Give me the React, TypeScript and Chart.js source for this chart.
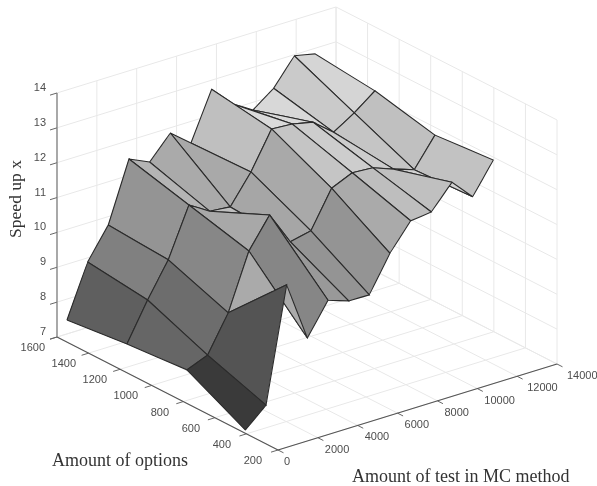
import React, { useEffect, useRef } from "react";
import { Chart, registerables } from "chart.js";

Chart.register(...registerables);

const testNodes = [500, 1537, 2574, 3611, 4648, 5685, 6722, 7759, 8796, 9833, 10870, 11907, 12944];
const optionNodes = [1600, 1220, 840, 470];
const speedAt1600 = [7.40, 8.88, 9.76, 11.47, 11.20, 11.85, 11.38, 12.74, 12.14, 11.78, 12.22, 12.97, 12.84];
const speedAt1220 = [7.59, 8.67, 9.64, 11.03, 10.67, 10.61, 11.43, 12.48, 12.44, 12.31, 11.84, 12.21, 12.66];
const speedAt840 = [7.73, 7.97, 9.00, 10.59, 11.44, 10.49, 10.62, 11.66, 11.92, 11.88, 11.66, 11.46, 12.27];
const speedAt470 = [6.86, 7.39, 10.66, 8.95, 9.85, 9.65, 9.64, 10.65, 11.40, 11.47, 12.14, 11.54, 12.41];
const speedRows = [speedAt1600, speedAt1220, speedAt840, speedAt470];

const testTicks = [0, 2000, 4000, 6000, 8000, 10000, 12000, 14000];
const optionTicks = [200, 400, 600, 800, 1000, 1200, 1400, 1600];
const speedTicks = [7, 8, 9, 10, 11, 12, 13, 14];

const grayStopsZ = [6.86, 7.4, 7.73, 8.68, 10.67, 12.4];
const grayStopsV = [58, 85, 102, 128, 170, 218];

const T_MAX = 14000, O_MIN = 200, O_MAX = 1600, Z_MIN = 7, Z_MAX = 14;

// orthographic view of the plot box, into the page-sized linear scales
function project(t: number, o: number, z: number) {
  return {
    x: 278 + (t / T_MAX) * 279 - ((o - O_MIN) / (O_MAX - O_MIN)) * 221,
    y: 450 - (t / T_MAX) * 86 - ((o - O_MIN) / (O_MAX - O_MIN)) * 113 - (z - Z_MIN) * 34.86,
  };
}

function grayFor(z: number) {
  let v = grayStopsV[grayStopsV.length - 1];
  if (z <= grayStopsZ[0]) v = grayStopsV[0];
  else
    for (let i = 1; i < grayStopsZ.length; i++) {
      if (z <= grayStopsZ[i]) {
        const f = (z - grayStopsZ[i - 1]) / (grayStopsZ[i] - grayStopsZ[i - 1]);
        v = grayStopsV[i - 1] + f * (grayStopsV[i] - grayStopsV[i - 1]);
        break;
      }
    }
  const c = Math.round(v);
  return `rgb(${c},${c},${c})`;
}

function segment(points: { x: number; y: number }[], color: string, width: number) {
  return {
    type: "scatter" as const,
    data: points,
    showLine: true,
    fill: false,
    borderColor: color,
    borderWidth: width,
    pointRadius: 0,
    clip: false,
  };
}

function buildDatasets() {
  const sets: any[] = [];
  // surface, nearest cell first (Chart.js paints the first dataset last)
  for (let j = optionNodes.length - 2; j >= 0; j--) {
    for (let i = 0; i < testNodes.length - 1; i++) {
      const pts = [
        project(testNodes[i], optionNodes[j], speedRows[j][i]),
        project(testNodes[i + 1], optionNodes[j], speedRows[j][i + 1]),
        project(testNodes[i + 1], optionNodes[j + 1], speedRows[j + 1][i + 1]),
        project(testNodes[i], optionNodes[j + 1], speedRows[j + 1][i]),
      ];
      pts.push(pts[0]);
      sets.push({
        type: "scatter" as const,
        data: pts,
        showLine: true,
        fill: "shape",
        tension: 0.000001,
        backgroundColor: grayFor(speedRows[j + 1][i]),
        borderColor: "#2b2b2b",
        borderWidth: 1.1,
        pointRadius: 0,
        clip: false,
      });
    }
  }
  // axis lines and tick marks
  sets.push(segment([project(0, O_MAX, Z_MIN), project(0, O_MAX, Z_MAX)], "#777777", 1.2));
  sets.push(segment([project(0, O_MIN, Z_MIN), project(0, O_MAX, Z_MIN)], "#555555", 1.1));
  sets.push(segment([project(0, O_MIN, Z_MIN), project(T_MAX, O_MIN, Z_MIN)], "#555555", 1.1));
  for (const z of speedTicks)
    sets.push(segment([project(0, O_MAX, z), project(-350, O_MAX, z)], "#666666", 1));
  for (const o of optionTicks)
    sets.push(segment([project(0, o, Z_MIN), project(-350, o, Z_MIN)], "#666666", 1));
  for (const t of testTicks)
    sets.push(segment([project(t, O_MIN, Z_MIN), project(t, O_MIN - 35, Z_MIN)], "#666666", 1));
  // grid on the floor and the two back walls
  const grid = "#e8e8e8";
  for (const t of testTicks) {
    sets.push(segment([project(t, O_MIN, Z_MIN), project(t, O_MAX, Z_MIN)], grid, 1));
    sets.push(segment([project(t, O_MAX, Z_MIN), project(t, O_MAX, Z_MAX)], grid, 1));
  }
  for (const o of optionTicks) {
    sets.push(segment([project(0, o, Z_MIN), project(T_MAX, o, Z_MIN)], grid, 1));
    sets.push(segment([project(T_MAX, o, Z_MIN), project(T_MAX, o, Z_MAX)], grid, 1));
  }
  for (const z of speedTicks) {
    sets.push(segment([project(0, O_MAX, z), project(T_MAX, O_MAX, z)], grid, 1));
    sets.push(segment([project(T_MAX, O_MAX, z), project(T_MAX, O_MIN, z)], grid, 1));
  }
  return sets;
}

const textPlugin = {
  id: "axisText",
  afterDraw(chart: any) {
    const { ctx, scales } = chart;
    const px = (p: { x: number; y: number }) => ({ x: scales.x.getPixelForValue(p.x), y: scales.y.getPixelForValue(p.y) });
    ctx.save();
    ctx.font = '11px "Liberation Sans"';
    ctx.fillStyle = "#4d4d4d";
    ctx.textBaseline = "middle";
    ctx.textAlign = "right";
    for (const z of speedTicks) {
      const p = px(project(0, O_MAX, z));
      ctx.fillText(String(z), p.x - 11, p.y - 5);
    }
    for (const o of optionTicks) {
      const p = px(project(0, o, Z_MIN));
      ctx.fillText(String(o), p.x - 16 + (4 * (o - O_MIN)) / (O_MAX - O_MIN), p.y + 11);
    }
    ctx.textAlign = "left";
    for (const t of testTicks) {
      const p = px(project(t, O_MIN, Z_MIN));
      ctx.fillText(String(t), p.x + (t === 0 ? 6 : t > 10000 ? 10 : 7), p.y + 12);
    }
    ctx.font = '18px "Liberation Serif"';
    ctx.fillStyle = "#333333";
    ctx.fillText("Amount of options", 52, 461);
    ctx.fillText("Amount of test in MC method", 352, 477);
    ctx.font = '17.5px "Liberation Serif"';
    ctx.translate(16, 199);
    ctx.rotate(-Math.PI / 2);
    ctx.textAlign = "center";
    ctx.fillText("Speed up x", 0, 0);
    ctx.restore();
  },
};

export default function App() {
  const ref = useRef<HTMLCanvasElement>(null);
  useEffect(() => {
    const chart = new Chart(ref.current!, {
      type: "scatter",
      data: { datasets: buildDatasets() },
      options: {
        animation: false,
        responsive: false,
        events: [],
        layout: { padding: 0 },
        plugins: { legend: { display: false }, tooltip: { enabled: false }, title: { display: false } },
        scales: {
          x: { type: "linear", min: 0, max: 597, display: false },
          y: { type: "linear", min: 0, max: 486, reverse: true, display: false },
        },
      },
      plugins: [textPlugin],
    } as any);
    return () => chart.destroy();
  }, []);
  return (
    <div style={{ position: "absolute", left: 0, top: 0, width: 597, height: 486, background: "#fff" }}>
      <canvas ref={ref} width={597} height={486} style={{ display: "block" }} />
    </div>
  );
}
